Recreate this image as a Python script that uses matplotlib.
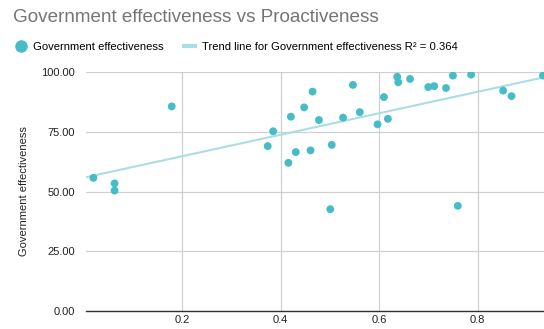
import numpy as np
import matplotlib
matplotlib.use("Agg")
import matplotlib.pyplot as plt
from matplotlib.lines import Line2D

plt.rcParams['font.family'] = ['Liberation Sans', 'DejaVu Sans']

proactiveness = [0.020, 0.063, 0.063, 0.179, 0.374, 0.385, 0.416, 0.421, 0.431,
                 0.448, 0.461, 0.465, 0.478, 0.501, 0.504, 0.527, 0.547, 0.561,
                 0.597, 0.610, 0.618, 0.637, 0.639, 0.663, 0.700, 0.712, 0.736,
                 0.750, 0.760, 0.787, 0.852, 0.869, 0.933]
gov_effectiveness = [55.7, 53.4, 50.4, 85.6, 69.0, 75.2, 62.0, 81.3, 66.5,
                     85.2, 67.2, 91.8, 79.9, 42.6, 69.5, 80.9, 94.6, 83.2,
                     78.1, 89.5, 80.4, 98.0, 95.7, 97.1, 93.7, 94.1, 93.3,
                     98.5, 44.0, 98.9, 92.2, 89.9, 98.5]
r_squared = 0.364
x_ticks = [0.2, 0.4, 0.6, 0.8]
y_ticks = [0, 25, 50, 75, 100]

x = np.array(proactiveness)
y = np.array(gov_effectiveness)
slope, intercept = np.polyfit(x, y, 1)

point_color = '#46bdc6'
trend_color = '#a9dfe3'

fig = plt.figure(figsize=(5.44, 3.29), dpi=100)
ax = fig.add_axes([86 / 544, 1 - 311 / 329, (544 - 86) / 544, (311 - 72) / 329])

xlim = (0.005, 0.935)
xs = np.array(xlim)
ax.plot(xs, slope * xs + intercept, color=trend_color, lw=1.5, zorder=2)
ax.scatter(x, y, s=32, color=point_color, edgecolors='none', zorder=3)

ax.set_xlim(*xlim)
ax.set_ylim(0, 100)
ax.set_xticks(x_ticks)
ax.set_xticklabels([f"{t:g}" for t in x_ticks])
ax.set_yticks(y_ticks)
ax.set_yticklabels([f"{t:.2f}" for t in y_ticks])
ax.tick_params(axis='x', length=0, labelsize=8, colors='#222222', pad=3)
ax.tick_params(axis='y', length=0, labelsize=8, colors='#222222', pad=8)
ax.grid(True, color='#d0d0d0', lw=0.9)
ax.set_axisbelow(True)
for side in ['top', 'right', 'left']:
    ax.spines[side].set_visible(False)
ax.spines['bottom'].set_color('#333333')
ax.spines['bottom'].set_linewidth(1.0)
ax.set_ylabel('Government effectiveness', fontsize=8, color='#222222', labelpad=9)

fig.text(13 / 544, 1 - 18 / 329, 'Government effectiveness vs Proactiveness',
         fontsize=13.6, color='#757575', va='center', ha='left')

handles = [
    Line2D([], [], marker='o', ls='none', color=point_color, markersize=8),
    Line2D([], [], color=trend_color, lw=3),
]
labels = ['Government effectiveness',
          f'Trend line for Government effectiveness R\u00b2 = {r_squared:.3f}']
fig.legend(handles, labels, loc='center left', bbox_to_anchor=(0.013, 1 - 47 / 329),
           ncol=2, frameon=False, fontsize=8.1, handlelength=1.0,
           handletextpad=0.6, columnspacing=1.8, borderaxespad=0.3)

fig.savefig('out.png', dpi=100)
